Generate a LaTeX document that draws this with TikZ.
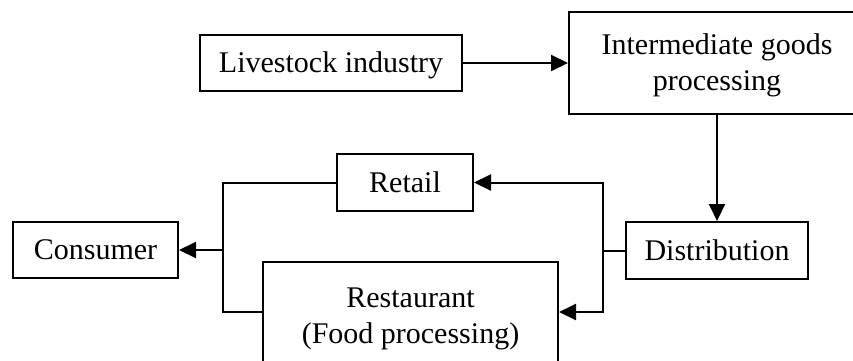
\documentclass[tikz,border=0pt]{standalone}
\usepackage{fontspec}
\setmainfont{Liberation Serif}
\usetikzlibrary{arrows.meta}
\begin{document}
\begin{tikzpicture}[x=1pt,y=-1pt,
  box/.style={draw, line width=2pt, inner sep=0pt, align=center, text depth=1.5pt,
    font=\fontsize{30}{36}\selectfont},
  flow/.style={line width=2pt},
  arr/.style={flow, -{Triangle[length=17pt,width=16pt]}}]
\useasboundingbox (0,0) rectangle (853,360);

% process boxes
\node[box, minimum width=262pt, minimum height=56pt] (live) at (331,63) {Livestock industry};
\node[box, minimum width=296pt, minimum height=102pt] (inter) at (717,63) {Intermediate goods\\processing};
\node[box, minimum width=182pt, minimum height=57pt] (dist) at (717,250.5) {Distribution};
\node[box, minimum width=136pt, minimum height=57pt] (retail) at (405,182.5) {Retail};
\node[box, minimum width=295pt, minimum height=108pt] (rest) at (410.5,316) {Restaurant\\(Food processing)};
\node[box, minimum width=165pt, minimum height=56pt] (cons) at (95.5,250) {Consumer};

% junction points of the two bus lines
\coordinate (rmid) at (603,250.5);
\coordinate (rbot) at (603,312);
\coordinate (lmid) at (223,250);
\coordinate (lbot) at (223,312);

% supply chain flow
\draw[arr] (live.east) -- (inter.west);
\draw[arr] (inter.south) -- (dist.north);
\draw[flow] (dist.west) -- (rmid);
\draw[arr] (rmid) |- (retail.east);
\draw[arr] (rmid) -- (rbot) -- (rest.east |- rbot);
\draw[flow] (retail.west) -| (lbot) -- (rest.west |- lbot);
\draw[arr] (lmid) -- (cons.east);
\end{tikzpicture}
\end{document}
